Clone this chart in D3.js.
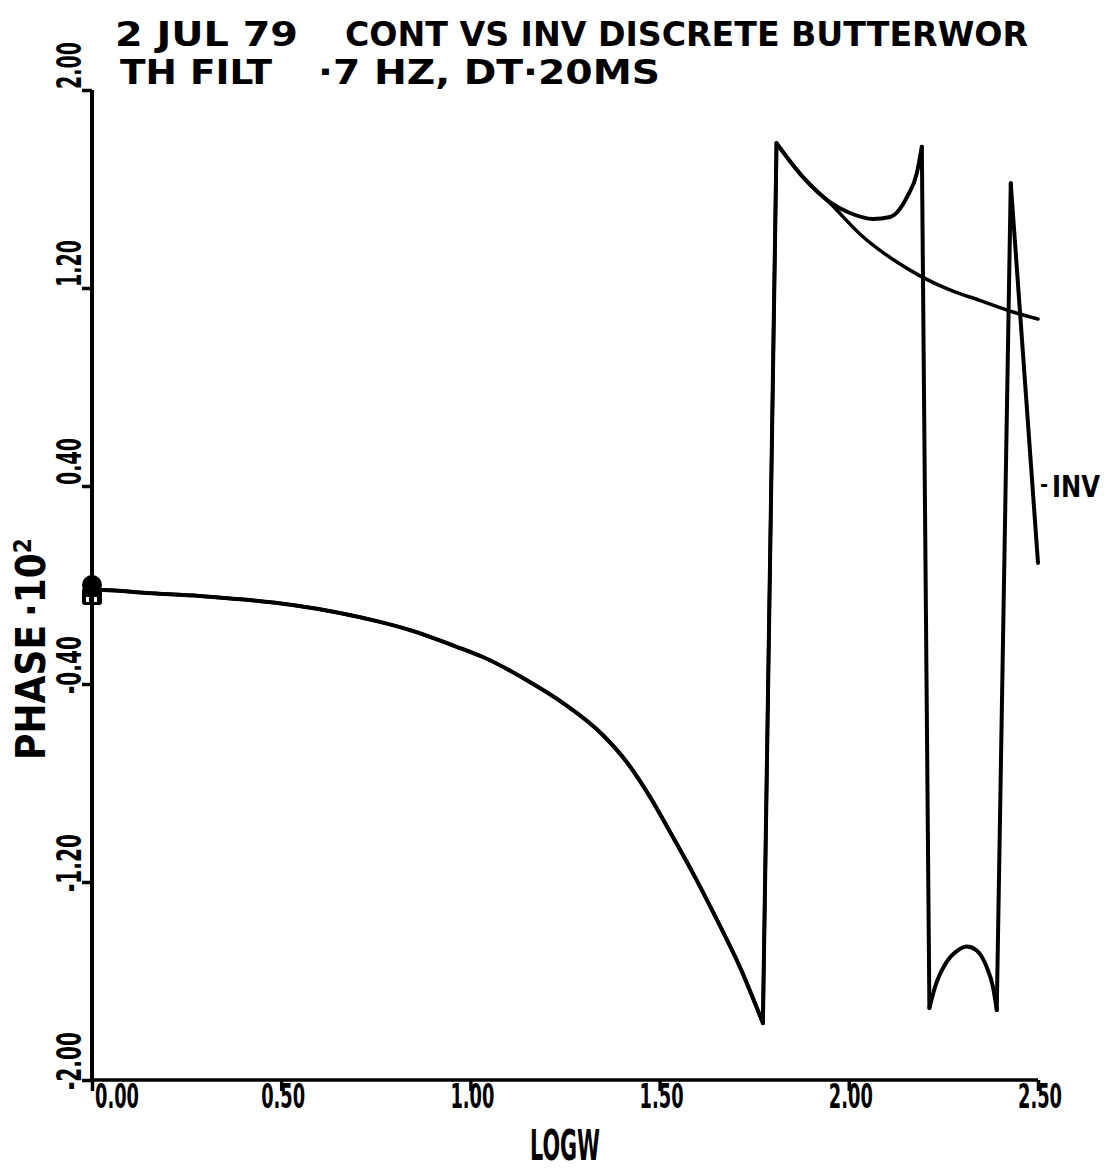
<!DOCTYPE html>
<html>
<head>
<meta charset="utf-8">
<script src="https://cdn.jsdelivr.net/npm/d3@7"></script>
<style>
  html, body { margin: 0; padding: 0; background: #fff; }
  svg { display: block; }
  text { font-family: "DejaVu Sans Condensed", "DejaVu Sans", sans-serif; font-weight: bold; fill: #000; }
</style>
</head>
<body>
<svg id="chart" width="1109" height="1172"></svg>
<script>
// ---- data ----
const xTicks = [0.0, 0.5, 1.0, 1.5, 2.0, 2.5];
const xTickLabels = ["0.00", "0.50", "1.00", "1.50", "2.00", "2.50"];
const yTicks = [2.0, 1.2, 0.4, -0.4, -1.2, -2.0];
const yTickLabels = ["2.00", "1.20", "0.40", "-0.40", "-1.20", "-2.00"];

// shared low-frequency part (both curves coincide)
const logwLow  = [0.00, 0.03, 0.145, 0.285, 0.41, 0.53, 0.655, 0.761, 0.84, 0.973, 1.033, 1.157, 1.245, 1.35, 1.414, 1.475, 1.535, 1.588, 1.652, 1.712, 1.773];
const phaseLow = [-0.02, -0.02, -0.032, -0.044, -0.06, -0.081, -0.113, -0.149, -0.182, -0.255, -0.291, -0.392, -0.477, -0.606, -0.717, -0.857, -1.018, -1.164, -1.354, -1.543, -1.77];

// continuous filter, after phase wrap
const logwCont  = [1.809, 1.879, 1.95, 2.038, 2.127, 2.193, 2.267, 2.35, 2.434, 2.5];
const phaseCont = [1.785, 1.648, 1.543, 1.406, 1.305, 1.245, 1.192, 1.148, 1.103, 1.075];

// inverse discrete filter, after phase wrap
const logwInv  = [1.809, 1.879, 1.95, 2.003, 2.064, 2.109, 2.154, 2.18, 2.193, 2.213, 2.228, 2.259, 2.289, 2.312, 2.338, 2.364, 2.381, 2.391, 2.428, 2.5];
const phaseInv = [1.785, 1.648, 1.547, 1.503, 1.479, 1.487, 1.568, 1.665, 1.771, -1.709, -1.624, -1.522, -1.475, -1.461, -1.477, -1.542, -1.624, -1.717, 1.623, 0.089];

const titleLine1a = "2 JUL 79";
const titleLine1b = "CONT VS INV DISCRETE BUTTERWOR";
const titleLine2a = "TH FILT";
const titleLine2b = "\u00B77 HZ, DT\u00B720MS";

// ---- layout ----
const svg = d3.select("#chart");
const x = d3.scaleLinear().domain([0, 2.5]).range([92, 1038]);
const y = d3.scaleLinear().domain([-2, 2]).range([1080, 90]);

const cont = logwLow.map((v, i) => [v, phaseLow[i]]).concat(logwCont.map((v, i) => [v, phaseCont[i]]));
const inv  = logwLow.map((v, i) => [v, phaseLow[i]]).concat(logwInv.map((v, i) => [v, phaseInv[i]]));

// split a series into smooth pieces at phase wraps / spikes; wraps drawn as straight strokes
function pieces(data) {
  const segs = [], jumps = [];
  let cur = [data[0]];
  for (let i = 1; i < data.length; i++) {
    const dv = Math.abs(data[i][1] - data[i - 1][1]);
    if (dv > 1.2) {
      segs.push(cur);
      jumps.push([data[i - 1], data[i]]);
      cur = [data[i]];
    } else cur.push(data[i]);
  }
  segs.push(cur);
  return { segs, jumps };
}

const smooth = d3.line().x(d => x(d[0])).y(d => y(d[1])).curve(d3.curveMonotoneX);
const straight = d3.line().x(d => x(d[0])).y(d => y(d[1]));

function drawSeries(data, w) {
  const p = pieces(data);
  const g = svg.append("g").attr("fill", "none").attr("stroke", "#000").attr("stroke-width", w)
    .attr("stroke-linejoin", "round").attr("stroke-linecap", "round");
  g.selectAll("path.seg").data(p.segs.filter(s => s.length > 1)).join("path").attr("class", "seg")
    .attr("d", s => (s.length > 2 ? smooth(s) : straight(s)));
  g.selectAll("path.jump").data(p.jumps).join("path").attr("class", "jump").attr("d", straight);
}

// axes
const xAxis = d3.axisBottom(x).tickValues(xTicks).tickSize(11).tickFormat("");
const gx = svg.append("g").attr("transform", `translate(0,${y(-2)})`).call(xAxis);
gx.select(".domain").attr("stroke", "#000").attr("stroke-width", 3.5).attr("d", `M${x(0)},0H${x(2.5)}`);
gx.selectAll(".tick line").attr("stroke", "#000").attr("stroke-width", 3.5);

const yAxis = d3.axisLeft(y).tickValues(yTicks).tickSize(10).tickFormat("");
const gy = svg.append("g").attr("transform", `translate(${x(0)},0)`).call(yAxis);
gy.select(".domain").attr("stroke", "#000").attr("stroke-width", 4).attr("d", `M0,${y(2)}V${y(-2)}`);
gy.selectAll(".tick line").attr("stroke", "#000").attr("stroke-width", 3.5);

// x tick labels
svg.append("g").selectAll("text").data(xTicks).join("text")
  .attr("x", (d, i) => x(d) + (i === 0 ? 25 : 2))
  .attr("y", 1108)
  .attr("text-anchor", "middle")
  .attr("font-size", 33)
  .attr("textLength", 44)
  .attr("lengthAdjust", "spacingAndGlyphs")
  .text((d, i) => xTickLabels[i]);

// y tick labels (rotated)
svg.append("g").selectAll("text").data(yTicks).join("text")
  .attr("transform", d => `translate(81,${y(d) + (d < 0 ? 10 : -1)}) rotate(-90)`)
  .attr("text-anchor", "start")
  .attr("font-size", 33)
  .attr("textLength", d => d < 0 ? 58 : 47)
  .attr("lengthAdjust", "spacingAndGlyphs")
  .text((d, i) => yTickLabels[i]);

// axis titles
svg.append("text").attr("x", 565).attr("y", 1160).attr("text-anchor", "middle")
  .attr("font-size", 42).attr("textLength", 70).attr("lengthAdjust", "spacingAndGlyphs").text("LOGW");

const ph = svg.append("text").attr("transform", "translate(45,760) rotate(-90)").attr("font-size", 40);
ph.append("tspan").attr("textLength", 135).attr("lengthAdjust", "spacingAndGlyphs").text("PHASE");
ph.append("tspan").attr("dx", 8).text("\u00B710");
ph.append("tspan").attr("dy", -14).attr("font-size", 24).text("2");

// title
const t1 = [[115, 46, 183, titleLine1a], [345, 46, 683, titleLine1b], [120, 84, 152, titleLine2a], [318, 84, 342, titleLine2b]];
svg.append("g").selectAll("text").data(t1).join("text")
  .attr("x", d => d[0]).attr("y", d => d[1])
  .attr("font-size", 34)
  .attr("textLength", d => d[2]).attr("lengthAdjust", "spacingAndGlyphs")
  .text(d => d[3]);

// curves
drawSeries(cont, 3.5);
drawSeries(inv, 4);

// start markers
svg.append("rect").attr("x", x(logwLow[0]) - 10).attr("y", y(phaseLow[0]) - 2).attr("width", 20).attr("height", 17).attr("rx", 3).attr("fill", "#000");
svg.append("circle").attr("cx", x(logwLow[0])).attr("cy", y(phaseLow[0]) - 5).attr("r", 10).attr("fill", "#000");
svg.append("rect").attr("x", x(logwLow[0]) - 6).attr("y", y(phaseLow[0]) + 7).attr("width", 3).attr("height", 5).attr("fill", "#fff");
svg.append("rect").attr("x", x(logwLow[0]) + 2).attr("y", y(phaseLow[0]) + 7).attr("width", 3).attr("height", 5).attr("fill", "#fff");

// series label
const invEnd = inv[inv.length - 1];
svg.append("text").attr("x", x(invEnd[0]) + 2).attr("y", 492).attr("font-size", 22).text("-");
svg.append("text").attr("x", x(invEnd[0]) + 14).attr("y", 497).attr("font-size", 30)
  .attr("textLength", 48).attr("lengthAdjust", "spacingAndGlyphs").text("INV");
</script>
</body>
</html>
